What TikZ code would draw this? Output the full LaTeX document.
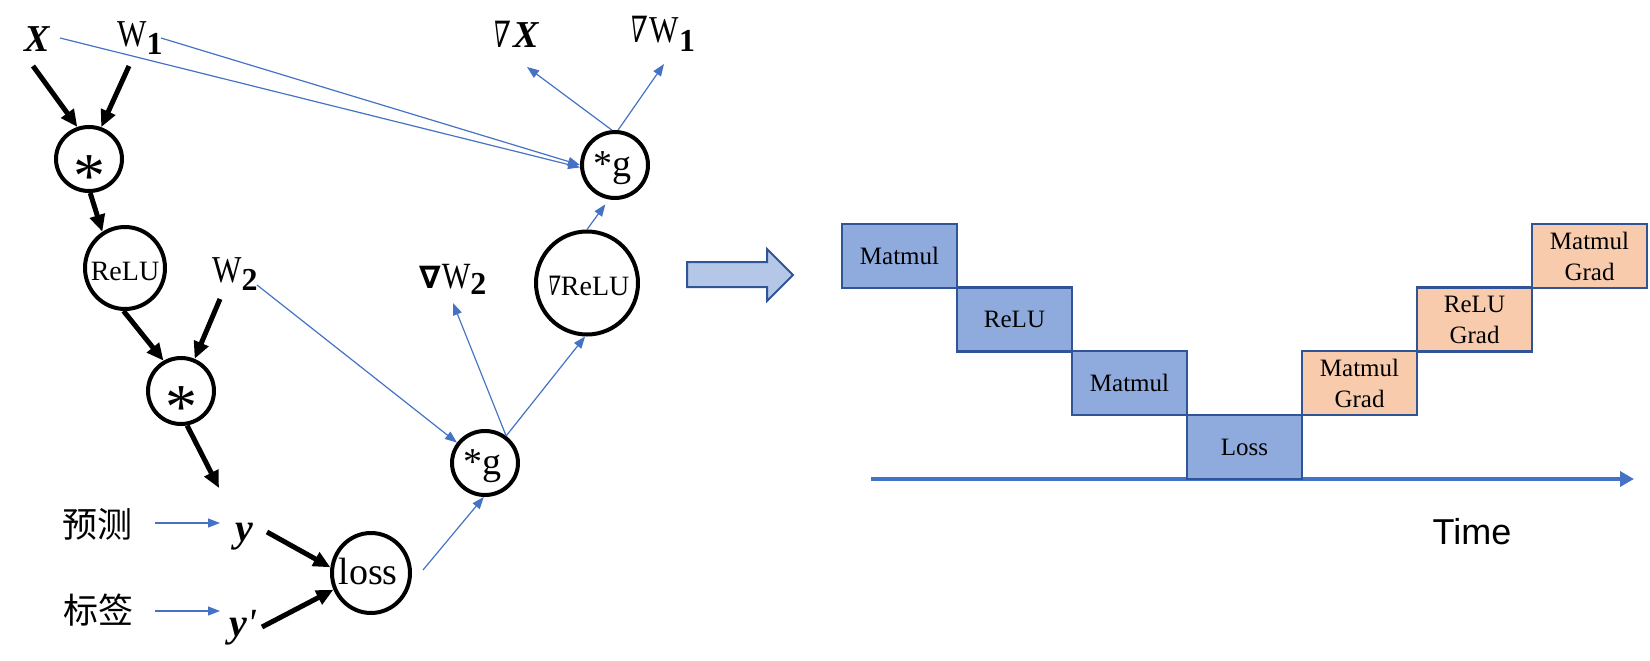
\documentclass[tikz,border=0pt]{standalone}
\usepackage{fontspec}
\setmainfont{Liberation Serif}
\newfontfamily\cjk{Noto Sans CJK SC}
\newfontfamily\nablaf[FakeSlant=0.2]{DejaVu Serif}
\newfontfamily\dvs{DejaVu Sans}
\newfontfamily\timef{Liberation Sans}
\usetikzlibrary{arrows.meta,calc,shapes.geometric}
\definecolor{boxblue}{HTML}{8FAADC}
\definecolor{boxedge}{HTML}{2F5597}
\definecolor{boxorange}{HTML}{F8CBAD}
\definecolor{lineblue}{HTML}{4472C4}
\definecolor{arrfill}{HTML}{B4C7E7}
\newcommand{\fs}[1]{\fontsize{#1}{#1}\selectfont}
\newcommand{\thinnab}{\scalebox{0.62}[0.95]{\nablaf ∇}\hspace{0.08em}}
\newcommand{\narrW}{\scalebox{0.82}[1]{W}}
\begin{document}
\begin{tikzpicture}[x=1pt,y=-1pt,
  opnode/.style={ellipse,draw=black,line width=4pt,inner sep=0pt},
  lbl/.style={inner sep=0pt,anchor=base},
  blackarr/.style={line width=5pt,-{Triangle[length=17pt,width=15pt]}},
  bluearr/.style={draw=lineblue,line width=1.2pt,-{Triangle[length=12pt,width=9pt]}},
  tbox/.style={draw=boxedge,line width=2.5pt,minimum width=115pt,minimum height=64pt,inner sep=0pt,align=center,font=\fs{25}},
  fwd/.style={tbox,fill=boxblue},
  bwd/.style={tbox,fill=boxorange}
]
\useasboundingbox (0,0) rectangle (1650,661);

% ---------- left: computation graph ----------
\node[opnode,minimum width=66pt,minimum height=64pt] (m1) at (89,159) {};
\node[opnode,minimum width=80pt,minimum height=82pt] (relu) at (125,268) {};
\node[opnode,minimum width=66pt,minimum height=66pt] (m2) at (181,391) {};
\node[opnode,minimum width=78pt,minimum height=80pt] (loss) at (371,573) {};
\node[opnode,minimum width=66pt,minimum height=64pt] (gb) at (485,463) {};
\node[opnode,minimum width=102pt,minimum height=103pt] (grelu) at (587,283) {};
\node[opnode,minimum width=66pt,minimum height=66pt] (gt) at (615,165) {};

\node[lbl] (m1t) at (89,197) {\fs{64}*};
\node[lbl] (m2t) at (181,428) {\fs{64}*};
\node[lbl] (relut) at (125,280) {\fs{28}ReLU};
\node[lbl] (losst) at (368,584) {\fs{38}loss};
\node[lbl] (gbt) at (482,474) {\fs{38}*g};
\node[lbl] (gtt) at (612,176) {\fs{38}*g};
\node[lbl] (grelut) at (588,295) {\fs{28}\thinnab ReLU};

\node[lbl] (X) at (37,52) {\fs{38}\bfseries\itshape X};
\node[lbl,anchor=base west] (W1) at (117,47) {\fs{38}\narrW\raisebox{-8pt}{\fs{32}\bfseries 1}};
\node[lbl,anchor=base west] (W2) at (212,282) {\fs{38}\narrW\raisebox{-8pt}{\fs{32}\bfseries 2}};
\node[lbl,anchor=base west] (gX) at (491,48) {\fs{38}\thinnab\hspace{3pt}{\bfseries\itshape X}};
\node[lbl,anchor=base west] (gW1) at (628,43) {\fs{38}\thinnab\hspace{2pt}\narrW\raisebox{-9pt}{\fs{32}\bfseries 1}};
\node[lbl,anchor=base west] (gW2) at (419,288) {{\fs{31}\dvs\bfseries ∇}\hspace{1pt}\fs{37}\narrW\raisebox{-6pt}{\fs{32}\bfseries 2}};
\node[lbl] (ylab) at (244,541) {\fs{40}\bfseries\itshape y};
\node[lbl,anchor=base west] (yplab) at (229,636) {\fs{40}{\bfseries\itshape y}\hspace{1pt}{\itshape\textquotesingle}};
\node[inner sep=0pt] (pred) at (97,524) {\cjk\fs{35}预测};
\node[inner sep=0pt] (label) at (98,610) {\cjk\fs{35}标签};

% free ends
\coordinate (xs) at (33,66);
\coordinate (w1s) at (129,66);
\coordinate (w2s) at (220,299);
\coordinate (ye) at (219,488);
\coordinate (ys) at (267,532);
\coordinate (yps) at (262,627);
\coordinate (preds) at (155,523);
\coordinate (prede) at (220,523);
\coordinate (labs) at (155,611);
\coordinate (labe) at (220,611);
\coordinate (xbs) at (60,38);
\coordinate (w1bs) at (161,38);
\coordinate (gxe) at (527,67);
\coordinate (gwe) at (664,64);
\coordinate (w2bs) at (257,285);
\coordinate (gw2e) at (453,303);
\coordinate (losss) at (423,570);

% black forward arrows
\draw[blackarr] (xs) -- (m1.110);
\draw[blackarr] (w1s) -- (m1.69);
\draw[blackarr] (m1.272) -- (relu.122);
\draw[blackarr] (relu.268) -- (m2.120);
\draw[blackarr] (w2s) -- (m2.67);
\draw[blackarr] (m2.280) -- (ye);
\draw[blackarr] (ys) -- (loss.172);
\draw[blackarr] (yps) -- (loss.204);

% blue arrows
\draw[bluearr] (preds) -- (prede);
\draw[bluearr] (labs) -- (labe);
\draw[bluearr] (xbs) -- (gt.184);
\draw[bluearr] (w1bs) -- (gt.180);
\draw[bluearr] (gt.95) -- (gxe);
\draw[bluearr] (gt.85) -- (gwe);
\draw[bluearr,shorten >=6pt] (grelu.north) -- (gt.260);
\draw[bluearr] (w2bs) -- (gb.144);
\draw[bluearr] (gb.52) -- (gw2e);
\draw[bluearr] (gb.52) -- (grelu.268);
\draw[bluearr] (losss) -- (gb.268);

% ---------- big arrow ----------
\draw[fill=arrfill,draw=boxedge,line width=2pt] (687,262) -- (767,262) -- (767,249) -- (793,275) -- (767,301) -- (767,287) -- (687,287) -- cycle;

% ---------- right: timeline ----------
\coordinate (axs) at (871,479);
\coordinate (axe) at (1634,479);
\draw[draw=lineblue,line width=4.5pt,-{Triangle[length=14pt,width=15pt]}] (axs) -- (axe);

\node[fwd] (b1) at (899.5,256) {Matmul};
\node[fwd] (b2) at (1014.5,319.5) {ReLU};
\node[fwd] (b3) at (1129.5,383) {Matmul};
\node[fwd] (b4) at (1244.5,447) {Loss};
\node[bwd] (b5) at (1359.5,383) {Matmul\\[6pt]Grad};
\node[bwd] (b6) at (1474.5,319.5) {ReLU\\[6pt]Grad};
\node[bwd] (b7) at (1589.5,256) {Matmul\\[6pt]Grad};

\node[lbl] (time) at (1472,544) {\timef\fs{36}Time};
\end{tikzpicture}
\end{document}
